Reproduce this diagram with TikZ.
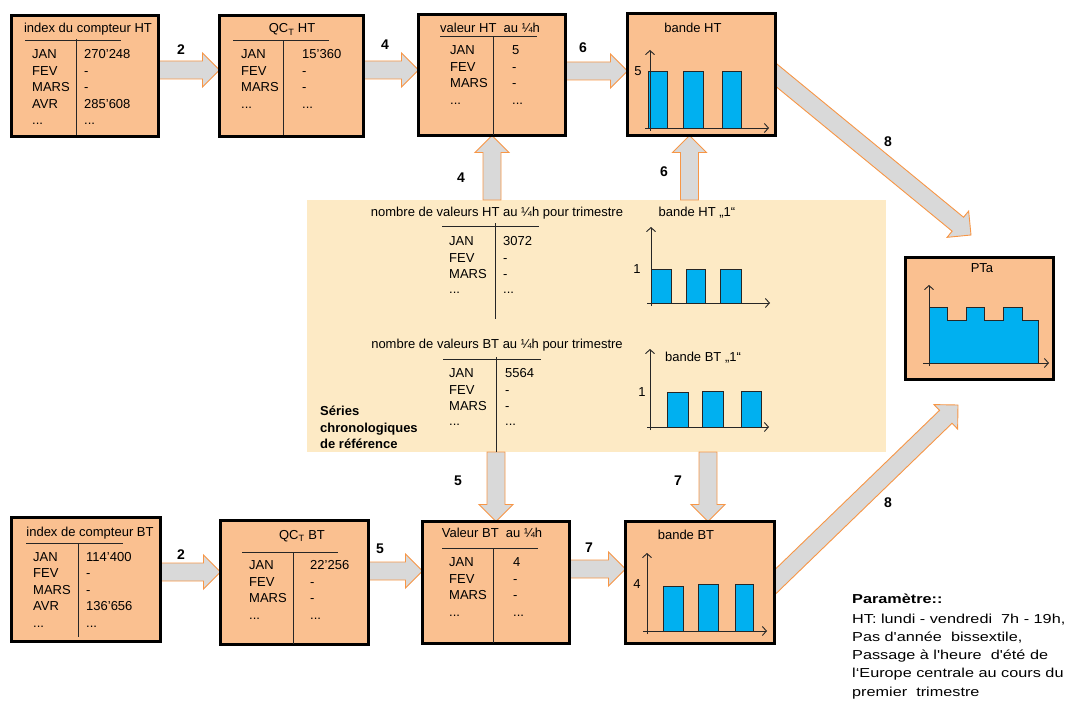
\documentclass[tikz,border=0pt]{standalone}
\usepackage{fontspec}
\setmainfont{Liberation Sans}
\newfontfamily\paramfont[FakeStretch=1.25]{Liberation Sans}
\usetikzlibrary{calc,arrows.meta,backgrounds}
\pgfdeclarelayer{arrows}
\pgfsetlayers{background,arrows,main}
\definecolor{boxfill}{RGB}{250,192,144}
\definecolor{cream}{RGB}{253,234,197}
\definecolor{agray}{RGB}{217,217,217}
\definecolor{aorange}{RGB}{247,150,70}
\definecolor{barblue}{RGB}{0,176,240}
\newcommand\fs{\fontsize{13pt}{15pt}\selectfont}
\newcommand\cellnode[4]{\node[lbl] (#1) at (#2,#3) {#4};}
\begin{document}
\begin{tikzpicture}[x=1pt,y=-1pt,
  box/.style={draw=black, line width=3.5pt, fill=boxfill, inner sep=0pt, outer sep=0pt},
  lbl/.style={font=\fs, inner sep=0pt, anchor=base west},
  ttl/.style={font=\fs, inner sep=0pt, anchor=base},
  num/.style={font=\fontsize{14pt}{16pt}\selectfont\bfseries, inner sep=0pt},
  bold/.style={font=\fs\bfseries, inner sep=0pt, anchor=base west},
  prm/.style={font=\paramfont\fontsize{13pt}{15pt}\selectfont, inner sep=0pt, anchor=base west},
  rule/.style={line width=1pt, draw=black!85},
  axis/.style={line width=0.9pt, draw=black!85, -{Straight Barb[length=4pt,width=9pt]}},
  bar/.style={fill=barblue, draw=black!85, line width=0.8pt},
  blockarrow/.style={fill=agray, draw=aorange, line width=0.9pt, line join=miter,
    to path={let \p1=(\tikztostart), \p2=(\tikztotarget),
      \n1={atan2(\y2-\y1,\x2-\x1)}, \n2={veclen(\x2-\x1,\y2-\y1)-17pt} in
      ($(\p1)+(\n1+90:9pt)$) -- ($(\p1)+(\n1:{(\n2)*1pt})+(\n1+90:9pt)$)
      -- ($(\p1)+(\n1:{(\n2)*1pt})+(\n1+90:17pt)$) -- (\p2)
      -- ($(\p1)+(\n1:{(\n2)*1pt})+(\n1-90:17pt)$)
      -- ($(\p1)+(\n1:{(\n2)*1pt})+(\n1-90:9pt)$)
      -- ($(\p1)+(\n1-90:9pt)$) -- cycle}}
]
\useasboundingbox (0,0) rectangle (1068,706);

% boxes
\node[box, minimum width=147pt, minimum height=121pt] (A) at (85,76) {};
\node[box, minimum width=144pt, minimum height=121pt] (B) at (291.5,76) {};
\node[box, minimum width=147pt, minimum height=121pt] (C) at (492,75) {};
\node[box, minimum width=148pt, minimum height=122pt] (D) at (701.5,74.5) {};
\node[box, minimum width=149pt, minimum height=124pt] (E) at (86,579.5) {};
\node[box, minimum width=148pt, minimum height=124pt] (F) at (294.5,582.5) {};
\node[box, minimum width=147pt, minimum height=122pt] (G) at (496,582.5) {};
\node[box, minimum width=149pt, minimum height=122pt] (H) at (700,582.5) {};
\node[box, minimum width=148pt, minimum height=122pt] (P) at (979.5,318.5) {};

% reference series area
\begin{pgfonlayer}{background}
\node[fill=cream, minimum width=579pt, minimum height=252pt, inner sep=0pt, outer sep=0pt] (Y) at (596.5,326) {};
\end{pgfonlayer}

% connectors
\coordinate (d6) at ([xshift=-12pt]D.south);
\coordinate (h7) at ([xshift=8pt]H.north);
\coordinate (t8a) at (971,235);
\coordinate (t8b) at (958,405);
\coordinate (s8a) at ($(D.east)!-14pt!(t8a)$);
\coordinate (s8b) at ($(H.east)!-14pt!(t8b)$);
\begin{pgfonlayer}{arrows}
\path[blockarrow] ([yshift=6pt]A.east) to ([yshift=6pt]B.west);
\path[blockarrow] ([yshift=6pt]B.east) to ([yshift=5pt]C.west);
\path[blockarrow] ([yshift=4pt]C.east) to ([yshift=3.5pt]D.west);
\path[blockarrow] (C.south |- Y.north) to (C.south);
\path[blockarrow] (d6 |- Y.north) to (d6);
\path[blockarrow] ([yshift=7.5pt]E.east) to ([yshift=10.5pt]F.west);
\path[blockarrow] ([yshift=11.5pt]F.east) to ([yshift=11.5pt]G.west);
\path[blockarrow] ([yshift=13.5pt]G.east) to ([yshift=13.5pt]H.west);
\path[blockarrow] (G.north |- Y.south) to (G.north);
\path[blockarrow] (h7 |- Y.south) to (h7);
\path[blockarrow] (s8a) to (t8a);
\path[blockarrow] (s8b) to (t8b);
\end{pgfonlayer}

% connector labels
\node[num] (n2a) at (181,50) {2};
\node[num] (n4a) at (385,45) {4};
\node[num] (n6a) at (583,48) {6};
\node[num] (n4b) at (461,178) {4};
\node[num] (n6b) at (664,172) {6};
\node[num] (n8a) at (888,142) {8};
\node[num] (n2b) at (181,555) {2};
\node[num] (n5a) at (380,549) {5};
\node[num] (n7a) at (589,548) {7};
\node[num] (n5b) at (458,481) {5};
\node[num] (n7b) at (678,481) {7};
\node[num] (n8b) at (888,503) {8};

% box A
\node[ttl] (tA) at (88,33) {index du compteur HT};
\draw[rule] (25,41) -- (121,41); \draw[rule] (76,39) -- (76,135);
\cellnode{a1}{32}{59}{JAN}\cellnode{a2}{32}{75.5}{FEV}\cellnode{a3}{32}{92}{MARS}\cellnode{a4}{32}{108.5}{AVR}\cellnode{a5}{32}{125}{...}
\cellnode{av1}{84}{59}{270'248}\cellnode{av2}{84}{75.5}{-}\cellnode{av3}{84}{92}{-}\cellnode{av4}{84}{108.5}{285'608}\cellnode{av5}{84}{125}{...}

% box B
\node[ttl] (tB) at (292,33) {QC\textsubscript{T} HT};
\draw[rule] (233,41) -- (329,41); \draw[rule] (283,41) -- (283,135);
\cellnode{b1}{241}{59}{JAN}\cellnode{b2}{241}{75.5}{FEV}\cellnode{b3}{241}{92}{MARS}\cellnode{b4}{241}{108.5}{...}
\cellnode{bv1}{302}{59}{15'360}\cellnode{bv2}{302}{75.5}{-}\cellnode{bv3}{302}{92}{-}\cellnode{bv4}{302}{108.5}{...}

% box C
\node[ttl] (tC) at (490,33) {valeur HT\ \ au ¼h};
\draw[rule] (440,37) -- (537,37); \draw[rule] (493,37) -- (493,135);
\cellnode{c1}{450}{55}{JAN}\cellnode{c2}{450}{72}{FEV}\cellnode{c3}{450}{88}{MARS}\cellnode{c4}{450}{105}{...}
\cellnode{cv1}{512}{55}{5}\cellnode{cv2}{512}{72}{-}\cellnode{cv3}{512}{88}{-}\cellnode{cv4}{512}{105}{...}

% box D
\node[ttl] (tD) at (693,33) {bande HT};
\draw[bar] (648,71) rectangle (667,128);
\draw[bar] (683,71) rectangle (703,128);
\draw[bar] (722,71) rectangle (741,128);
\draw[axis] (650,131) -- (650,50);
\draw[axis] (645,128) -- (769,128);
\node[ttl] (yD) at (638,76) {5};

% box E
\node[ttl] (tE) at (90,536) {index de compteur BT};
\draw[rule] (26,543) -- (123,543); \draw[rule] (78,543) -- (78,637);
\cellnode{e1}{33}{561}{JAN}\cellnode{e2}{33}{577.5}{FEV}\cellnode{e3}{33}{594}{MARS}\cellnode{e4}{33}{610.5}{AVR}\cellnode{e5}{33}{627}{...}
\cellnode{ev1}{86}{561}{114'400}\cellnode{ev2}{86}{577.5}{-}\cellnode{ev3}{86}{594}{-}\cellnode{ev4}{86}{610.5}{136'656}\cellnode{ev5}{86}{627}{...}

% box F
\node[ttl] (tF) at (302,539) {QC\textsubscript{T} BT};
\draw[rule] (242,552) -- (338,552); \draw[rule] (293,552) -- (293,644);
\cellnode{f1}{249}{569}{JAN}\cellnode{f2}{249}{586}{FEV}\cellnode{f3}{249}{602}{MARS}\cellnode{f4}{249}{619}{...}
\cellnode{fv1}{310}{569}{22'256}\cellnode{fv2}{310}{586}{-}\cellnode{fv3}{310}{602}{-}\cellnode{fv4}{310}{619}{...}

% box G
\node[ttl] (tG) at (492,537) {Valeur BT\ \ au ¼h};
\draw[rule] (442,548) -- (538,548); \draw[rule] (493,548) -- (493,643);
\cellnode{g1}{449}{566}{JAN}\cellnode{g2}{449}{583}{FEV}\cellnode{g3}{449}{599}{MARS}\cellnode{g4}{449}{616}{...}
\cellnode{gv1}{513}{566}{4}\cellnode{gv2}{513}{583}{-}\cellnode{gv3}{513}{599}{-}\cellnode{gv4}{513}{616}{...}

% box H
\node[ttl] (tH) at (686,539) {bande BT};
\draw[bar] (663,586) rectangle (683,631);
\draw[bar] (698,584) rectangle (718,631);
\draw[bar] (735,584) rectangle (753,631);
\draw[axis] (647,634) -- (647,553);
\draw[axis] (643,631) -- (767,631);
\node[ttl] (yH) at (637,588) {4};

% PTa
\node[ttl] (tP) at (982,272) {PTa};
\draw[bar] (929,363) -- (929,307) -- (947,307) -- (947,320) -- (966,320) -- (966,307) -- (984,307) -- (984,320) -- (1003,320) -- (1003,307) -- (1022,307) -- (1022,320) -- (1038,320) -- (1038,363) -- cycle;
\draw[axis] (929,366) -- (929,285);
\draw[axis] (923,363) -- (1049,363);

% reference series contents
\node[ttl] (ty1) at (497,216) {nombre de valeurs HT au ¼h pour trimestre};
\draw[rule] (442,226) -- (539,226); \draw[rule] (495,223) -- (495,319);
\cellnode{y1}{449}{245}{JAN}\cellnode{y2}{449}{262}{FEV}\cellnode{y3}{449}{278}{MARS}\cellnode{y4}{449}{293}{...}
\cellnode{yv1}{503}{245}{3072}\cellnode{yv2}{503}{262}{-}\cellnode{yv3}{503}{278}{-}\cellnode{yv4}{503}{293}{...}
\node[ttl] (tc1) at (697,216) {bande HT „1“};
\draw[bar] (651,269) rectangle (671,303);
\draw[bar] (686,269) rectangle (705,303);
\draw[bar] (720,269) rectangle (741,303);
\draw[axis] (651,306) -- (651,227);
\draw[axis] (647,303) -- (770,303);
\node[ttl] (yc1) at (637,273) {1};

\node[ttl] (ty2) at (497,348) {nombre de valeurs BT au ¼h pour trimestre};
\draw[rule] (443,359) -- (541,359); \draw[rule] (496,357) -- (496,452);
\cellnode{z1}{449}{377}{JAN}\cellnode{z2}{449}{394}{FEV}\cellnode{z3}{449}{410}{MARS}\cellnode{z4}{449}{425}{...}
\cellnode{zv1}{505}{377}{5564}\cellnode{zv2}{505}{394}{-}\cellnode{zv3}{505}{410}{-}\cellnode{zv4}{505}{425}{...}
\node[ttl] (tc2) at (703,361) {bande BT „1“};
\draw[bar] (667,392) rectangle (688,427);
\draw[bar] (702,391) rectangle (723,427);
\draw[bar] (741,391) rectangle (761,427);
\draw[axis] (650,430) -- (650,349);
\draw[axis] (647,427) -- (769,427);
\node[ttl] (yc2) at (642,396) {1};

\node[bold] (s1) at (320,415) {Séries};
\node[bold] (s2) at (320,432) {chronologiques};
\node[bold] (s3) at (320,448) {de référence};

% parameters
\node[prm, font=\paramfont\fontsize{13pt}{15pt}\selectfont\bfseries] (p0) at (852,603) {Paramètre::};
\node[prm] (p1) at (852,623) {HT: lundi - vendredi\ \ 7h - 19h,};
\node[prm] (p2) at (852,641) {Pas d'année\ \ bissextile,};
\node[prm] (p3) at (852,659) {Passage à l'heure\ \ d'été de};
\node[prm] (p4) at (852,677) {l‘Europe centrale au cours du};
\node[prm] (p5) at (852,696) {premier\ \ trimestre};
\end{tikzpicture}
\end{document}
